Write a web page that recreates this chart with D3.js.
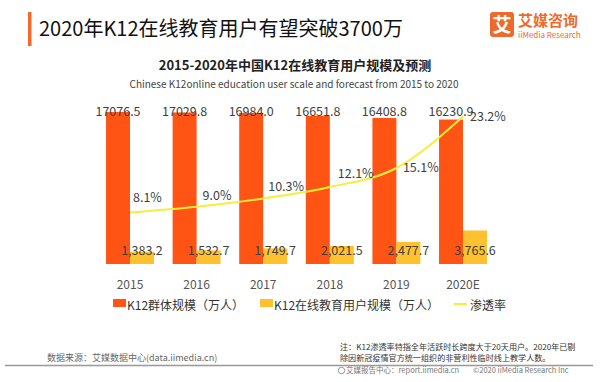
<!DOCTYPE html>
<html><head><meta charset="utf-8">
<script src="https://cdn.jsdelivr.net/npm/d3@7"></script>
<style>
html,body{margin:0;padding:0;background:#fff;}
svg{display:block;font-family:"Noto Sans CJK SC","Noto Sans",sans-serif;}
</style></head>
<body><svg id="c" width="600" height="382"></svg>
<script>
const categories = ["2015","2016","2017","2018","2019","2020E"];
const k12Population = [17076.5,17029.8,16984.0,16651.8,16408.8,16230.9];
const onlineUsers = [1383.2,1532.7,1749.7,2021.5,2477.7,3765.6];
const penetration = [8.1,9.0,10.3,12.1,15.1,23.2];
const popLabels = ["17076.5","17029.8","16984.0","16651.8","16408.8","16230.9"];
const userLabels = ["1,383.2","1,532.7","1,749.7","2,021.5","2,477.7","3,765.6"];
const pctLabels = ["8.1%","9.0%","10.3%","12.1%","15.1%","23.2%"];
const legendLabels = ["K12群体规模（万人）","K12在线教育用户规模（万人）","渗透率"];

const ORANGE="#FF5414", YELLOW="#FFC22E", LINE="#F6EE3A", TXT="#3f3f3f";
const svg = d3.select("#c");

// header
svg.append("rect").attr("x",28).attr("y",12).attr("width",3.5).attr("height",34).attr("fill","#F26A2A");
svg.append("text").attr("x",39).attr("y",36).attr("font-size",20).attr("fill","#111")
  .text("2020年K12在线教育用户有望突破3700万");
// logo
svg.append("rect").attr("x",490).attr("y",12).attr("width",24).attr("height",25).attr("rx",3).attr("fill","#EE6A2C");
svg.append("text").attr("x",502).attr("y",31.5).attr("text-anchor","middle").attr("font-size",19).attr("font-weight","bold").attr("fill","#fff").text("艾");
svg.append("text").attr("x",518).attr("y",26).attr("font-size",15).attr("font-weight","bold").attr("fill","#EE6A2C").text("艾媒咨询");
svg.append("text").attr("x",518).attr("y",38).attr("font-size",8).attr("fill","#EE6A2C").text("iiMedia Research");

// subtitles
svg.append("text").attr("x",295).attr("y",70).attr("text-anchor","middle").attr("font-size",13).attr("font-weight","bold").attr("fill","#222")
  .text("2015-2020年中国K12在线教育用户规模及预测");
svg.append("text").attr("x",294).attr("y",88).attr("text-anchor","middle").attr("font-size",10).attr("fill","#444")
  .text("Chinese K12online education user scale and forecast from 2015 to 2020");

// scales
const x = d3.scaleBand().domain(categories).range([96.7,496.3]).paddingInner(0.28).paddingOuter(0.14);
const bw = x.bandwidth();
const y = d3.scaleLinear().domain([0,20000]).range([264,86]);
const y2 = d3.scaleLinear().domain([0,28]).range([264,86]);
const cx = c => x(c)+bw/2;

// bars
svg.append("g").selectAll("rect").data(categories).join("rect")
  .attr("x",c=>x(c)).attr("width",bw/2)
  .attr("y",(c,i)=>y(k12Population[i])).attr("height",(c,i)=>y(0)-y(k12Population[i]))
  .attr("fill",ORANGE);
svg.append("g").selectAll("rect").data(categories).join("rect")
  .attr("x",c=>x(c)+bw/2).attr("width",bw/2)
  .attr("y",(c,i)=>y(onlineUsers[i])).attr("height",(c,i)=>y(0)-y(onlineUsers[i]))
  .attr("fill",YELLOW);

// line
const line = d3.line().x((d,i)=>cx(categories[i])).y(d=>y2(d)).curve(d3.curveMonotoneX);
svg.append("path").datum(penetration).attr("d",line).attr("fill","none").attr("stroke",LINE).attr("stroke-width",2);

// value labels
const popY = y(d3.max(k12Population));
svg.append("g").selectAll("text").data(categories).join("text")
  .attr("x",c=>x(c)+bw/4).attr("y",popY).attr("dy","0.35em").attr("text-anchor","middle")
  .attr("font-size",12.5).attr("fill",TXT).text((c,i)=>popLabels[i]);
const userY = y(d3.min(onlineUsers))+1;
svg.append("g").selectAll("text").data(categories).join("text")
  .attr("x",c=>x(c)+bw*3/4).attr("y",userY-2).attr("dy","0.35em").attr("text-anchor","middle")
  .attr("font-size",12.5).attr("fill",TXT).text((c,i)=>userLabels[i]);
const pctDy = [-14.5,-11,-11.5,-13.5,0,0];
const pctDx = [3,6,5,8,6.5,7];
svg.append("g").selectAll("text").data(categories).join("text")
  .attr("x",(c,i)=>cx(c)+pctDx[i]).attr("y",(c,i)=>y2(penetration[i])+pctDy[i]).attr("dy","0.35em")
  .attr("font-size",12.5).attr("fill",TXT).text((c,i)=>pctLabels[i]);

// x axis labels
svg.append("g").selectAll("text").data(categories).join("text")
  .attr("x",c=>cx(c)).attr("y",285).attr("dy","0.35em").attr("text-anchor","middle")
  .attr("font-size",12).attr("fill","#555").text(c=>c);

// legend
const lg = svg.append("g").attr("font-size",12).attr("fill","#333");
lg.append("rect").attr("x",113).attr("y",299).attr("width",13).attr("height",8).attr("fill",ORANGE);
lg.append("text").attr("x",127).attr("y",306).attr("dy","0.35em").text(legendLabels[0]);
lg.append("rect").attr("x",260).attr("y",299).attr("width",13).attr("height",8).attr("fill",YELLOW);
lg.append("text").attr("x",274).attr("y",306).attr("dy","0.35em").text(legendLabels[1]);
lg.append("rect").attr("x",454).attr("y",303).attr("width",13).attr("height",2).attr("fill",LINE);
lg.append("text").attr("x",470).attr("y",306).attr("dy","0.35em").text(legendLabels[2]);

// footer
svg.append("text").attr("x",47).attr("y",358).attr("dy","0.35em").attr("font-size",9).attr("fill","#666")
  .text("数据来源：艾媒数据中心(data.iimedia.cn)");
svg.append("text").attr("x",340).attr("y",347.5).attr("dy","0.35em").attr("font-size",8.1).attr("fill","#333")
  .text("注：K12渗透率特指全年活跃时长跨度大于20天用户。2020年已剔");
svg.append("text").attr("x",340).attr("y",358.5).attr("dy","0.35em").attr("font-size",8.1).attr("fill","#333")
  .text("除因新冠疫情官方统一组织的非营利性临时线上教学人数。");
svg.append("line").attr("x1",5).attr("x2",593).attr("y1",365.5).attr("y2",365.5).attr("stroke","#999").attr("stroke-width",1.5);
svg.append("circle").attr("cx",341.5).attr("cy",370.5).attr("r",3.2).attr("fill","none").attr("stroke","#777").attr("stroke-width",0.8);
svg.append("text").attr("x",346).attr("y",370.5).attr("dy","0.35em").attr("font-size",7.5).attr("fill","#777")
  .text("艾媒报告中心：report.iimedia.cn");
svg.append("text").attr("x",473).attr("y",370.5).attr("dy","0.35em").attr("font-size",7.5).attr("fill","#777")
  .text("©2020  iiMedia Research  Inc");
</script></body></html>
